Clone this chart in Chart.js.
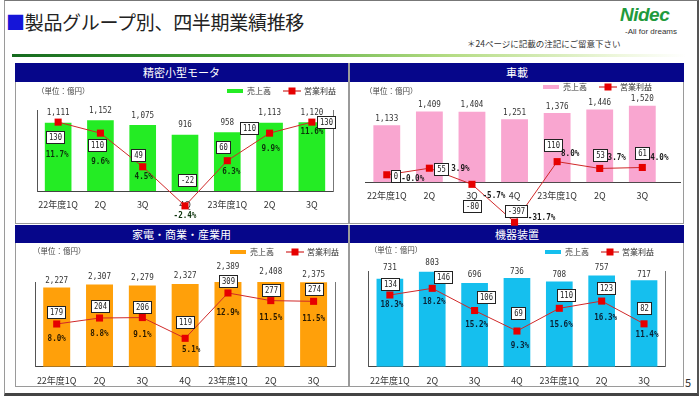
<!DOCTYPE html>
<html>
<head>
<meta charset="utf-8">
<script src="https://cdn.jsdelivr.net/npm/chart.js@4.4.0/dist/chart.umd.min.js"></script>
<style>
  body { margin: 0; width: 700px; height: 396px; overflow: hidden; background: #fff; font-family: "Noto Sans CJK JP", sans-serif; }
  #frame { position: absolute; left: 4px; top: 0; width: 692px; height: 392px; border-left: 1px solid #9a9a9a; border-right: 2px solid #555; border-bottom: 3px solid #444; border-top: 1px solid #777; }
  #title { position: absolute; left: 6px; top: 8px; font-size: 19px; color: #222; letter-spacing: -0.3px; }
  #title span { color: #1515d8; }
  #note { position: absolute; left: 467px; top: 37px; font-size: 8.5px; color: #333; }
  #logo { position: absolute; left: 620px; top: 4px; font-family: "Liberation Sans", sans-serif; font-weight: bold; font-style: italic; font-size: 19px; color: #1f9a3c; letter-spacing: -0.5px; }
  #slogan { position: absolute; left: 625px; top: 27px; font-family: "Liberation Sans", sans-serif; font-size: 8px; color: #333; }
  #bar { position: absolute; left: 12px; top: 54px; width: 674px; height: 3px; background: linear-gradient(to right, #146a1e, #4fa83a 35%, #b5dc84 65%, #eef7dd 90%, #fff); }
  .panel { position: absolute; border: 1px solid #9a9a9a; box-sizing: border-box; }
  .hdr { position: absolute; color: #fff; background: #06068a; font-size: 11px; text-align: center; z-index: 1; }
  canvas { position: absolute; z-index: 2; }
  #pno { position: absolute; left: 685px; top: 374px; font-size: 11px; color: #333; }
</style>
</head>
<body>
<div id="frame"></div>
<div id="title"><span>■</span>製品グループ別、四半期業績推移</div>
<div id="logo">Nidec</div>
<div id="slogan">-All for dreams</div>
<div id="note">＊24ページに記載の注記にご留意下さい</div>
<div id="bar"></div>

<div class="panel" style="left:15px;top:63px;width:334px;height:161px"></div>
<div class="panel" style="left:349px;top:63px;width:335px;height:161px"></div>
<div class="panel" style="left:15px;top:225px;width:334px;height:162px"></div>
<div class="panel" style="left:349px;top:225px;width:335px;height:162px"></div>
<div class="hdr" style="left:15px;top:63px;width:333px;height:19px;line-height:19px">精密小型モータ</div>
<div class="hdr" style="left:350px;top:63px;width:334px;height:19px;line-height:19px">車載</div>
<div class="hdr" style="left:15px;top:225px;width:333px;height:18px;line-height:18px">家電・商業・産業用</div>
<div class="hdr" style="left:350px;top:225px;width:334px;height:18px;line-height:18px">機器装置</div>

<canvas id="c1" width="332" height="145" style="left:15px;top:82px"></canvas>
<canvas id="c2" width="334" height="145" style="left:349px;top:82px"></canvas>
<canvas id="c3" width="332" height="143" style="left:15px;top:243px"></canvas>
<canvas id="c4" width="334" height="143" style="left:349px;top:243px"></canvas>
<div id="pno">5</div>

<script>
// 四半期
const categories = ['22年度1Q', '2Q', '3Q', '4Q', '23年度1Q', '2Q', '3Q'];

// 精密小型モータ
const motorSales = [1111, 1152, 1075, 916, 958, 1113, 1120];
const motorProfit = [130, 110, 49, -22, 60, 110, 130];
const motorMargin = [11.7, 9.6, 4.5, -2.4, 6.3, 9.9, 11.6];

// 車載
const autoSales = [1133, 1409, 1404, 1251, 1376, 1446, 1520];
const autoProfit = [0, 55, -80, -397, 110, 53, 61];
const autoMargin = [-0.0, 3.9, -5.7, -31.7, 8.0, 3.7, 4.0];

// 家電・商業・産業用
const applSales = [2227, 2307, 2279, 2327, 2389, 2408, 2375];
const applProfit = [179, 204, 206, 119, 309, 277, 274];
const applMargin = [8.0, 8.8, 9.1, 5.1, 12.9, 11.5, 11.5];

// 機器装置
const machSales = [731, 803, 696, 736, 708, 757, 717];
const machProfit = [134, 146, 106, 69, 110, 123, 82];
const machMargin = [18.3, 18.2, 15.2, 9.3, 15.6, 16.3, 11.4];

const salesLabel = '売上高';
const profitLabel = '営業利益';
const unitLabel = '（単位：億円）';

Chart.defaults.font.family = '"Noto Sans CJK JP", sans-serif';

const fmtNum = v => v.toLocaleString('en-US');
const fmtPct = v => ((v < 0 || Object.is(v, -0)) ? '-' : '') + Math.abs(v).toFixed(1) + '%';

// label placement per panel (hand placed in the original slide)
const panels = [
  {
    canvas: 'c1', sales: motorSales, profit: motorProfit, margin: motorMargin,
    color: '#24ec24', pctColor: '#0c330c',
    yMax: 1320, y1Min: 5, y1Max: 152, frame: true, axisTo: 0,
    pad: { left: 22, right: 14, top: 28, bottom: 16 }, xh: 20,
    barDy: [-10, -10, -10, -10, -10, -10, -10],
    boxOff: [[-3, 15], [-3, 12], [-5, -12], [2, -26], [-4, -14], [-21, -5], [14, 0]],
    pctOff: [[-1, 32], [0, 28], [1, 10], [0, 10], [4, 11], [1, 15], [0, 9]],
    unitX: 22, unitY: 9, legY: 9, legX: 212
  },
  {
    canvas: 'c2', sales: autoSales, profit: autoProfit, margin: autoMargin,
    color: '#f9a6d0', pctColor: '#1a1a1a',
    yMax: 1636, y1Min: -63, y1Max: 626, frame: false, axisTo: 332,
    pad: { left: 16.5, right: 19.4, top: 18, bottom: 24.7 }, xh: 20,
    barDy: [-7, -7, -7, -7, -7, -7, -7],
    boxOff: [[9, 1], [12, 1], [0, 22], [1, -11], [-4, -17], [0, -13], [0, -14]],
    pctOff: [[26, 4], [31, 0], [22, 11], [27, -5], [13, -8], [17, -11], [17, -10]],
    unitX: 16, unitY: 9, legY: 5, legX: 194
  },
  {
    canvas: 'c3', sales: applSales, profit: applProfit, margin: applMargin,
    color: '#ffa00a', pctColor: '#2a1a00',
    yMax: 2380, y1Min: 0, y1Max: 355, frame: true, axisTo: 0,
    pad: { left: 20.3, right: 12, top: 39, bottom: 0 }, xh: 19.3,
    barDy: [-7, -8, -8, -8, -15, -10, -8],
    boxOff: [[-1, -12], [0, -12], [0, -11], [0, -16], [0, -12], [0, -11], [0, -12]],
    pctOff: [[0, 15], [0, 16], [0, 17], [6, 11], [0, 20], [0, 17], [0, 17]],
    unitX: 18, unitY: 8, legY: 9, legX: 215
  },
  {
    canvas: 'c4', sales: machSales, profit: machProfit, margin: machMargin,
    color: '#15bfee', pctColor: '#0a1f33',
    yMax: 789, y1Min: 4.7, y1Max: 176, frame: true, axisTo: 0,
    pad: { left: 19.7, right: 17.8, top: 28.7, bottom: 0 }, xh: 19.3,
    barDy: [-11, -9, -8, -7, -7, -8, -6],
    boxOff: [[0, -11], [11, -11], [11, -14], [1, -18], [7, -13], [4, -13], [0, -16]],
    pctOff: [[2, 10], [2, 13], [2, 14], [3, 14], [2, 16], [4, 16], [3, 11]],
    unitX: 20.7, unitY: 7, legY: 9, legX: 196
  }
];

// narrow half-width look of the slide's gothic digits
function narrowText(ctx, text, x, y, font) {
  ctx.save();
  ctx.font = font;
  ctx.translate(x, y);
  ctx.scale(0.8, 1);
  ctx.fillText(text, 0, 0);
  ctx.restore();
}

const wholeCanvas = { left: -9999, top: -9999, right: 9999, bottom: 9999 };

function makeLabels(p) {
  return {
    id: 'slideLabels',
    beforeDatasetsDraw(chart) {
      if (!p.axisTo) return;
      const ctx = chart.ctx;
      const a = chart.chartArea;
      ctx.save();
      ctx.strokeStyle = '#444';
      ctx.lineWidth = 1;
      ctx.beginPath();
      ctx.moveTo(a.right, Math.round(a.bottom) + 0.5);
      ctx.lineTo(p.axisTo, Math.round(a.bottom) + 0.5);
      ctx.stroke();
      ctx.restore();
    },
    afterDatasetsDraw(chart) {
      const ctx = chart.ctx;
      const a = chart.chartArea;
      const bars = chart.getDatasetMeta(0).data;
      const pts = chart.getDatasetMeta(1).data;
      // markers that fall outside the plot area (skipped by the line controller)
      pts.forEach(pt => {
        if (pt.y > a.bottom + 3 || pt.y < a.top - 3) pt.draw(ctx, wholeCanvas);
      });
      ctx.save();
      ctx.textAlign = 'center';
      ctx.textBaseline = 'middle';
      bars.forEach((b, i) => {
        const top = Math.max(b.y, a.top);
        ctx.fillStyle = '#333';
        narrowText(ctx, fmtNum(p.sales[i]), b.x, top + p.barDy[i], '9.5px "DejaVu Sans Mono"');
      });
      pts.forEach((pt, i) => {
        const t = String(p.profit[i]);
        ctx.font = '9px "DejaVu Sans Mono"';
        const w = Math.round(ctx.measureText(t).width * 0.8 + 5);
        const h = 12;
        const cx = pt.x + p.boxOff[i][0];
        const cy = pt.y + p.boxOff[i][1];
        const bx = Math.round(cx - w / 2) + 0.5;
        const by = Math.round(cy - h / 2) + 0.5;
        ctx.fillStyle = '#fff';
        ctx.fillRect(bx, by, w, h);
        ctx.strokeStyle = '#222';
        ctx.lineWidth = 1;
        ctx.strokeRect(bx, by, w, h);
        ctx.fillStyle = '#222';
        narrowText(ctx, t, bx + w / 2, by + h / 2 + 0.5, '9px "DejaVu Sans Mono"');
        ctx.fillStyle = p.pctColor;
        narrowText(ctx, fmtPct(p.margin[i]), pt.x + p.pctOff[i][0], pt.y + p.pctOff[i][1], 'bold 9.5px "DejaVu Sans Mono"');
      });
      ctx.restore();
    },
    afterDraw(chart) {
      const ctx = chart.ctx;
      ctx.save();
      ctx.textBaseline = 'middle';
      ctx.textAlign = 'left';
      ctx.font = '7.5px "Noto Sans CJK JP"';
      ctx.fillStyle = '#444';
      ctx.fillText(unitLabel, p.unitX, p.unitY);
      // legend
      const x = p.legX, y = p.legY;
      ctx.fillStyle = p.color;
      ctx.fillRect(x, y - 2, 16, 4);
      ctx.font = '8px "Noto Sans CJK JP"';
      ctx.fillStyle = '#333';
      ctx.fillText(salesLabel, x + 20, y);
      ctx.strokeStyle = '#d02828';
      ctx.lineWidth = 1.2;
      ctx.beginPath();
      ctx.moveTo(x + 56, y);
      ctx.lineTo(x + 74, y);
      ctx.stroke();
      ctx.fillStyle = '#e60000';
      ctx.fillRect(x + 61.5, y - 3.5, 7, 7);
      ctx.fillStyle = '#333';
      ctx.fillText(profitLabel, x + 77, y);
      ctx.restore();
    }
  };
}

panels.forEach(p => {
  const ctx = document.getElementById(p.canvas).getContext('2d');
  new Chart(ctx, {
    type: 'bar',
    data: {
      labels: categories,
      datasets: [{
        type: 'bar',
        label: salesLabel,
        data: p.sales,
        backgroundColor: p.color,
        barPercentage: 0.63,
        categoryPercentage: 1,
        yAxisID: 'y',
        order: 2
      }, {
        type: 'line',
        label: profitLabel,
        data: p.profit,
        borderColor: '#d02828',
        borderWidth: 1,
        pointStyle: 'rect',
        pointRadius: 5,
        pointBackgroundColor: '#e60000',
        pointBorderWidth: 0,
        tension: 0,
        clip: false,
        yAxisID: 'y1',
        order: 1
      }]
    },
    options: {
      responsive: false,
      animation: false,
      layout: { padding: p.pad },
      plugins: { legend: { display: false }, tooltip: { enabled: false } },
      scales: {
        x: {
          grid: { display: false, drawTicks: false },
          border: { display: true, color: '#444', width: 1 },
          ticks: { padding: 8, color: '#333', font: { size: 9 }, maxRotation: 0, autoSkip: false },
          afterFit: s => { s.height = p.xh; }
        },
        y: {
          display: p.frame, min: 0, max: p.yMax,
          grid: { display: false, drawTicks: false },
          border: { display: true, color: '#555', width: 1 },
          ticks: { display: false },
          afterFit: s => { s.width = 0; }
        },
        y1: {
          display: p.frame, position: 'right', min: p.y1Min, max: p.y1Max,
          grid: { display: false, drawTicks: false },
          border: { display: true, color: '#777', width: 1 },
          ticks: { display: false },
          afterFit: s => { s.width = 0; }
        }
      }
    },
    plugins: [makeLabels(p)]
  });
});
</script>
</body>
</html>
